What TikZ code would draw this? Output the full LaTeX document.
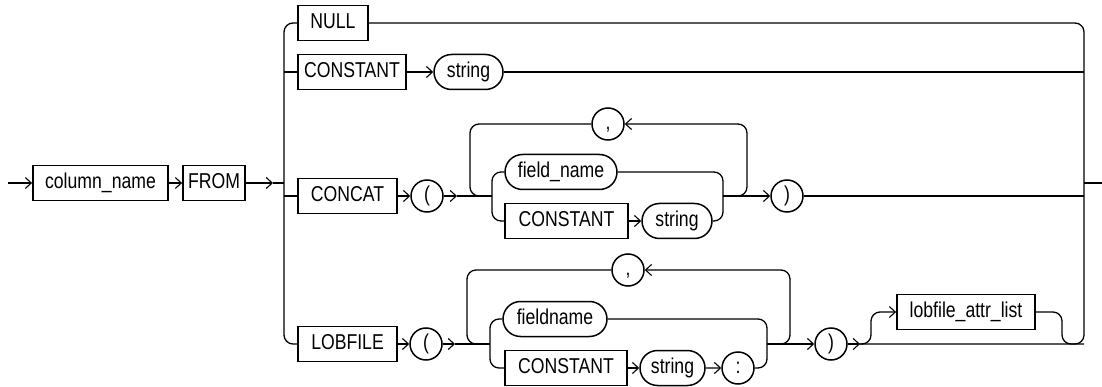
\documentclass[tikz,border=0pt]{standalone}
\usepackage{fontspec}
\setmainfont{Liberation Sans}[FakeStretch=0.82]
\usetikzlibrary{arrows.meta,shapes.misc}

\begin{document}
\begin{tikzpicture}[x=1pt,y=-1pt,
  font=\fontsize{21.5}{24}\selectfont,
  kw/.style={draw,line width=1.8pt,rectangle,minimum height=35pt,inner sep=0pt,text height=15.5pt,text depth=4.5pt},
  var/.style={draw,line width=1.5pt,rounded rectangle,minimum height=35pt,inner sep=0pt,text height=15.5pt,text depth=4.5pt},
  sym/.style={draw,line width=1.5pt,circle,minimum size=32pt,inner sep=0pt,text height=15.5pt,text depth=4.5pt},
  rail/.style={line width=1.3pt,rounded corners=9pt},
  go/.style={rail,-{Straight Barb[length=6pt,width=11pt,line width=1.1pt]}}]
  \useasboundingbox (0,0) rectangle (1102,387);

  \node[kw,minimum width=135pt] (colname) at (100.5,183) {column\_name};
  \node[kw,minimum width=62pt] (from) at (214,183) {FROM};
  \node[kw,minimum width=70pt] (null) at (333,23) {NULL};
  \node[kw,minimum width=108pt] (const1) at (352,72) {CONSTANT};
  \node[var,minimum width=69pt] (str1) at (468.5,72) {string};
  \node[kw,minimum width=99pt] (concat) at (347.5,196) {CONCAT};
  \node[sym] (lp1) at (427,196) {(};
  \node[sym] (comma1) at (608,124) {,};
  \node[var,minimum width=112pt] (fname1) at (561,172) {field\_name};
  \node[kw,minimum width=123pt] (const2) at (566.5,221) {CONSTANT};
  \node[var,minimum width=70pt] (str2) at (677,221) {string};
  \node[sym] (rp1) at (787,196) {)};
  \node[kw,minimum width=99pt] (lobfile) at (347.5,344) {LOBFILE};
  \node[sym] (lp2) at (426,344) {(};
  \node[sym] (comma2) at (628,270) {,};
  \node[var,minimum width=104pt] (fname2) at (555,319) {fieldname};
  \node[kw,minimum width=122pt] (const3) at (566,368) {CONSTANT};
  \node[var,minimum width=65pt] (str3) at (672.5,368) {string};
  \node[sym] (colon) at (738,368) {:};
  \node[sym] (rp2) at (831,344) {)};
  \node[kw,minimum width=138pt] (attr) at (966,312) {lobfile\_attr\_list};

  \coordinate (in) at (8,183);
  \coordinate (out) at (1102,183);
  \coordinate (a0) at (273,183);
  \coordinate (jl) at (284,183);
  \coordinate (jr) at (1084,183);
  \coordinate (bl) at (284,344);
  \coordinate (br) at (1084,344);
  \coordinate (a1) at (457,196);
  \coordinate (l1) at (470,196);
  \coordinate (il1) at (492,221);
  \coordinate (ir1) at (723,221);
  \coordinate (m1) at (723,196);
  \coordinate (r1) at (747,124);
  \coordinate (a2) at (455,344);
  \coordinate (l2) at (467,344);
  \coordinate (il2) at (490,368);
  \coordinate (ir2) at (767,368);
  \coordinate (m2) at (767,344);
  \coordinate (r2) at (790,270);
  \coordinate (a3) at (860,344);
  \coordinate (o1) at (871,312);
  \coordinate (o2) at (1062,344);

  \draw[go] (in) -- (colname.west);
  \draw[go] (colname) -- (from);
  \draw[go] (from) -- (a0);
  \draw[rail] (a0) -- (jl);
  \draw[rail] (null.west) -| (bl) -- (lobfile.west);
  \draw[rail] (null.east) -| (br) -- (rp2.east);
  \draw[rail] (jr) -- (out);

  \draw[rail] (const1.west -| jl) -- (const1.west);
  \draw[go] (const1) -- (str1);
  \draw[rail] (str1.east) -- (str1.east -| jr);

  \draw[rail] (concat.west -| jl) -- (concat.west);
  \draw[go] (concat) -- (lp1);
  \draw[go] (lp1) -- (a1);
  \draw[rail] (a1) -- (a1 -| il1);
  \draw[rail] (comma1.west) -| (l1) -- (a1 -| il1);
  \draw[rail] (fname1.west) -| (il1) -- (const2.west);
  \draw[go] (const2) -- (str2);
  \draw[rail] (fname1.east) -| (ir1) -- (str2.east);
  \draw[go] (m1) -- (rp1);
  \draw[go] (m1) -| (r1) -- (comma1.east);
  \draw[rail] (rp1.east) -- (rp1.east -| jr);

  \draw[go] (lobfile) -- (lp2);
  \draw[go] (lp2) -- (a2);
  \draw[rail] (a2) -- (a2 -| il2);
  \draw[rail] (comma2.west) -| (l2) -- (a2 -| il2);
  \draw[rail] (fname2.west) -| (il2) -- (const3.west);
  \draw[go] (const3) -- (str3);
  \draw[go] (str3) -- (colon);
  \draw[rail] (fname2.east) -| (ir2) -- (colon.east);
  \draw[go] (m2) -- (rp2);
  \draw[go] (m2) -| (r2) -- (comma2.east);
  \draw[go] (rp2) -- (a3);
  \draw[go] (a3) -| (o1) -- (attr.west);
  \draw[rail] (attr.east) -| (o2) -- (br);
\end{tikzpicture}
\end{document}
